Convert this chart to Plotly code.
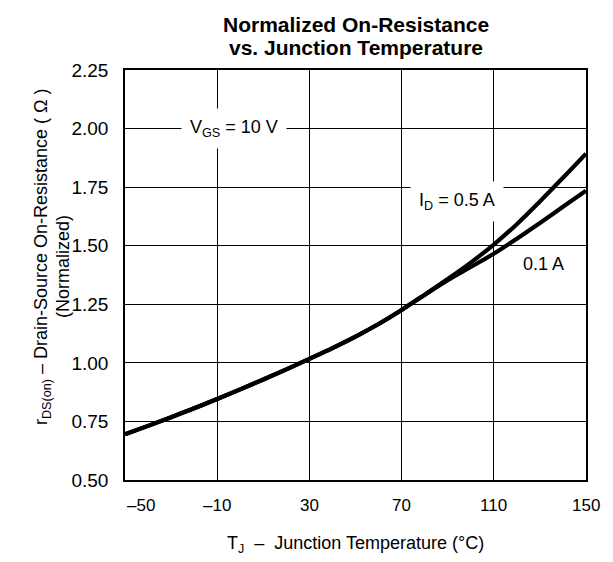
import plotly.graph_objects as go

temp = [-50, -40, -30, -20, -10, 0, 10, 20, 30, 40, 50, 60, 70, 80, 90, 100, 110, 120, 130, 140, 150]
r_05A = [0.695, 0.731, 0.768, 0.806, 0.846, 0.887, 0.929, 0.972, 1.017, 1.063, 1.112, 1.166, 1.226, 1.291, 1.358,
         1.428, 1.505, 1.592, 1.689, 1.79, 1.893]
r_01A = [0.695, 0.731, 0.768, 0.806, 0.846, 0.887, 0.929, 0.972, 1.017, 1.063, 1.112, 1.166, 1.226, 1.290, 1.353,
         1.409, 1.466, 1.530, 1.597, 1.666, 1.735]

x_ticks = [-50, -10, 30, 70, 110, 150]
x_tick_labels = ["\u201350", "\u201310", "30", "70", "110", "150"]
y_ticks = [0.50, 0.75, 1.00, 1.25, 1.50, 1.75, 2.00, 2.25]

FONT = "Liberation Sans, Arial, sans-serif"

fig = go.Figure()
for ys in (r_01A, r_05A):
    fig.add_trace(go.Scatter(x=temp, y=ys, mode="lines",
                             line=dict(color="black", width=4.2, shape="spline", smoothing=1.0),
                             showlegend=False, hoverinfo="skip"))

annotations = []
for v, t in zip(x_ticks, x_tick_labels):
    anchor = "left" if v == x_ticks[0] else "center"
    annotations.append(dict(x=v, y=0, xref="x", yref="paper", yshift=-25,
                            text=t, showarrow=False, xanchor=anchor, yanchor="middle",
                            font=dict(family=FONT, size=17, color="black")))

annotations += [
    dict(x=0.5, y=1, xref="paper", yref="paper", yshift=46, text="<b>Normalized On-Resistance</b>",
         showarrow=False, xanchor="center", yanchor="middle",
         font=dict(family=FONT, size=21, color="black")),
    dict(x=0.5, y=1, xref="paper", yref="paper", yshift=23, text="<b>vs. Junction Temperature</b>",
         showarrow=False, xanchor="center", yanchor="middle",
         font=dict(family=FONT, size=21, color="black")),
    dict(x=0.5, y=0, xref="paper", yref="paper", yshift=-64,
         text="T<sub>J</sub>  \u2013  Junction Temperature (\u00b0C)",
         showarrow=False, xanchor="center", yanchor="middle",
         font=dict(family=FONT, size=18, color="black")),
    dict(x=0, y=0.5, xref="paper", yref="paper", xshift=-83, yshift=18,
         text="r<sub>DS(on)</sub> \u2013 Drain-Source On-Resistance ( \u03a9 )",
         textangle=-90, showarrow=False, xanchor="center", yanchor="middle",
         font=dict(family=FONT, size=18, color="black")),
    dict(x=0, y=0.5, xref="paper", yref="paper", xshift=-62, yshift=8,
         text="(Normalized)",
         textangle=-90, showarrow=False, xanchor="center", yanchor="middle",
         font=dict(family=FONT, size=18, color="black")),
    dict(x=-2.5, y=2.0, text="V<sub>GS</sub> = 10 V", showarrow=False,
         bgcolor="white", borderpad=8,
         font=dict(family=FONT, size=18, color="black")),
    dict(x=94, y=1.69, text="I<sub>D</sub> = 0.5 A", showarrow=False,
         bgcolor="white", borderpad=8,
         font=dict(family=FONT, size=18, color="black")),
    dict(x=131.5, y=1.42, text="0.1 A", showarrow=False,
         font=dict(family=FONT, size=18, color="black")),
]

fig.update_layout(
    width=605, height=554,
    margin=dict(l=117, r=27, t=62, b=82),
    paper_bgcolor="white", plot_bgcolor="white",
    annotations=annotations,
    font=dict(family=FONT, size=18, color="black"),
)
fig.update_xaxes(range=[-50, 150], tickvals=x_ticks, showticklabels=False,
                 showgrid=True, gridcolor="black", gridwidth=1,
                 showline=True, linecolor="black", linewidth=1.5, mirror=True,
                 zeroline=False, ticks="")
fig.update_yaxes(range=[0.5, 2.25], tickvals=y_ticks, tickformat=".2f",
                 showgrid=True, gridcolor="black", gridwidth=1,
                 showline=True, linecolor="black", linewidth=1.5, mirror=True,
                 zeroline=False, ticks="", ticklabelstandoff=11,
                 tickfont=dict(family=FONT, size=19, color="black"))

fig.write_html("out.html")
